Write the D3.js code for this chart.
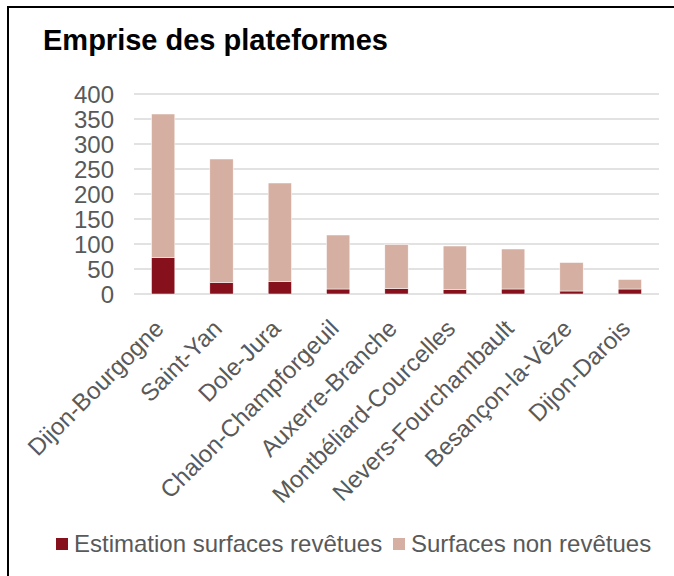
<!DOCTYPE html>
<html>
<head>
<meta charset="utf-8">
<script src="https://cdn.jsdelivr.net/npm/d3@7"></script>
<style>
  body { margin: 0; background: #fff; }
  text { font-family: "Liberation Sans", Arial, sans-serif; }
</style>
</head>
<body>
<script>
// Airports (categories)
const airports = ["Dijon-Bourgogne", "Saint-Yan", "Dole-Jura", "Chalon-Champforgeuil",
  "Auxerre-Branche", "Montbéliard-Courcelles", "Nevers-Fourchambault",
  "Besançon-la-Vèze", "Dijon-Darois"];

// Series values
const revetues = [73, 23, 25, 10, 11, 9, 10, 6, 10];
const nonRevetues = [287, 247, 197, 108, 88, 87, 80, 57, 19];

// Y ticks
const yTicks = [0, 50, 100, 150, 200, 250, 300, 350, 400];

const seriesNames = ["Estimation surfaces revêtues", "Surfaces non revêtues"];
const colors = ["#86101c", "#d5afa1"];

const w = 674, h = 576;

const svg = d3.select("body").append("svg")
  .attr("width", w)
  .attr("height", h);

// chart border
svg.append("rect")
  .attr("x", 8).attr("y", 7)
  .attr("width", 720).attr("height", 620)
  .attr("fill", "white")
  .attr("stroke", "black")
  .attr("stroke-width", 2);

// title
svg.append("text")
  .attr("x", 43).attr("y", 50)
  .style("font-size", "29px")
  .style("font-weight", "bold")
  .attr("fill", "black")
  .text("Emprise des plateformes");

const x = d3.scaleBand()
  .domain(airports)
  .range([134, 659])
  .paddingInner(0.6)
  .paddingOuter(0.3);

const y = d3.scaleLinear()
  .domain([0, 400])
  .range([294, 94]);

// gridlines
svg.append("g")
  .selectAll("line")
  .data(yTicks)
  .enter().append("line")
  .attr("x1", 134).attr("x2", 659)
  .attr("y1", d => y(d)).attr("y2", d => y(d))
  .attr("stroke", "#d9d9d9")
  .attr("stroke-width", 1.5);

// y tick labels
svg.append("g")
  .selectAll("text")
  .data(yTicks)
  .enter().append("text")
  .attr("x", 114)
  .attr("y", d => y(d))
  .attr("dy", "0.36em")
  .attr("text-anchor", "end")
  .style("font-size", "24px")
  .attr("fill", "#595959")
  .text(d => d);

// stack the data
const table = airports.map((a, i) => ({ name: a, rev: revetues[i], non: nonRevetues[i] }));
const stack = d3.stack().keys(["rev", "non"]);
const layers = stack(table);

svg.append("g")
  .selectAll("g")
  .data(layers)
  .enter().append("g")
  .attr("fill", (d, i) => colors[i])
  .selectAll("rect")
  .data(d => d)
  .enter().append("rect")
  .attr("x", d => x(d.data.name))
  .attr("width", x.bandwidth())
  .attr("y", d => y(d[1]))
  .attr("height", d => y(d[0]) - y(d[1]))
  .attr("stroke", "white")
  .attr("stroke-width", 0.5);

// x labels, rotated
svg.append("g")
  .selectAll("text")
  .data(airports)
  .enter().append("text")
  .attr("transform", d => "translate(" + (x(d) + x.bandwidth() / 2 + 2) + ",330) rotate(-45)")
  .attr("text-anchor", "end")
  .style("font-size", "24px")
  .attr("fill", "#595959")
  .text(d => d);

// legend
const legendX = [56, 393];
const legend = svg.append("g")
  .selectAll("g")
  .data(seriesNames)
  .enter().append("g")
  .attr("transform", (d, i) => "translate(" + legendX[i] + ",538)");

legend.append("rect")
  .attr("width", 12).attr("height", 12)
  .attr("fill", (d, i) => colors[i]);

legend.append("text")
  .attr("x", 18).attr("y", 14)
  .style("font-size", "24px")
  .attr("fill", "#595959")
  .text(d => d);
</script>
</body>
</html>
